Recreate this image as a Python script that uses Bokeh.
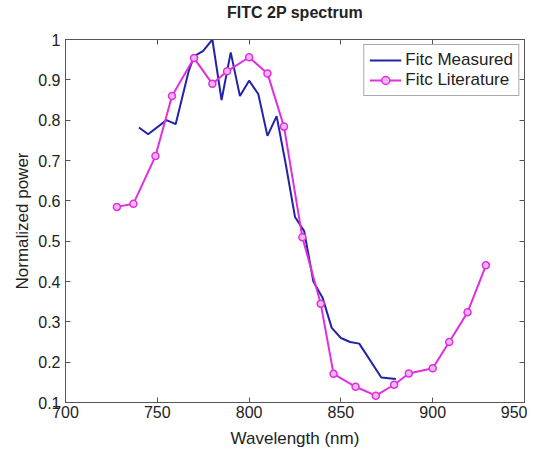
from bokeh.plotting import figure
from bokeh.models import LinearAxis, Range1d, FixedTicker, Legend, LegendItem
from bokeh.embed import file_html
from bokeh.resources import INLINE

# Data
meas_x = [740, 745, 755, 760, 767, 770, 775, 780, 785, 790, 795, 800, 805, 810, 815,
          820, 825, 830, 835, 840, 845, 850, 855, 860, 872, 880]
meas_y = [0.782, 0.765, 0.800, 0.790, 0.920, 0.958, 0.972, 1.000, 0.850, 0.968, 0.860,
          0.898, 0.865, 0.761, 0.810, 0.690, 0.560, 0.525, 0.400, 0.360, 0.285, 0.260,
          0.250, 0.246, 0.162, 0.158]

lit_x = [728, 737, 749, 758, 770, 780, 788, 800, 810, 819, 829, 839, 846, 858, 869,
         879, 887, 900, 909, 919, 929]
lit_y = [0.585, 0.593, 0.711, 0.860, 0.954, 0.890, 0.921, 0.956, 0.916, 0.784, 0.510,
         0.345, 0.171, 0.139, 0.117, 0.144, 0.172, 0.185, 0.250, 0.324, 0.440]

x_ticks = [700, 750, 800, 850, 900, 950]
y_ticks = [0.1, 0.2, 0.3, 0.4, 0.5, 0.6, 0.7, 0.8, 0.9, 1.0]
title_text = "FITC 2P spectrum"

FONT = "Liberation Sans"
BLUE = "#2323a6"
MAG = "#e02ee0"
AXC = "#555555"
TXT = "#222222"

p = figure(width=527, height=452, output_backend="svg", toolbar_location=None,
           x_range=Range1d(700, 950), y_range=Range1d(0.1, 1.0),
           min_border_left=65, min_border_right=3, min_border_top=39, min_border_bottom=50)

p.xgrid.visible = False
p.ygrid.visible = False
p.outline_line_color = AXC
p.outline_line_width = 1

for ax in (p.xaxis[0], p.yaxis[0]):
    ax.major_tick_in = 5
    ax.major_tick_out = 0
    ax.minor_tick_line_color = None
    ax.axis_line_color = AXC
    ax.major_tick_line_color = AXC
    ax.major_label_text_font = FONT
    ax.major_label_text_font_size = "16px"
    ax.major_label_text_color = TXT
    ax.axis_label_text_font = FONT
    ax.axis_label_text_font_size = "17px"
    ax.axis_label_text_font_style = "normal"
    ax.axis_label_text_color = TXT

p.xaxis[0].ticker = FixedTicker(ticks=x_ticks)
p.yaxis[0].ticker = FixedTicker(ticks=y_ticks)
p.xaxis[0].axis_label = "Wavelength (nm)"
p.yaxis[0].axis_label = "Normalized power"
p.xaxis[0].axis_label_standoff = 8
p.yaxis[0].axis_label_standoff = 3
p.xaxis[0].major_label_standoff = 3
p.yaxis[0].major_label_standoff = 5

# top / right inward ticks, no labels
def bare_axis(ticks):
    return LinearAxis(ticker=FixedTicker(ticks=ticks), major_tick_in=5, major_tick_out=0,
                      minor_tick_line_color=None, major_label_text_font_size="0px",
                      major_label_text_color=None, major_label_standoff=0,
                      axis_line_color=AXC, major_tick_line_color=AXC)

top_axis = bare_axis(x_ticks)
top_axis.axis_label = title_text
top_axis.axis_label_text_font = FONT
top_axis.axis_label_text_font_size = "16px"
top_axis.axis_label_text_font_style = "bold"
top_axis.axis_label_text_color = TXT
top_axis.axis_label_standoff = 19
p.add_layout(top_axis, "above")
p.add_layout(bare_axis(y_ticks), "right")

r_meas = p.line(meas_x, meas_y, line_color=BLUE, line_width=2)
r_lit = p.line(lit_x, lit_y, line_color=MAG, line_width=2)
r_lit_m = p.scatter(lit_x, lit_y, marker="circle", size=7, line_color=MAG,
                    line_width=1.5, fill_color="#f2b6f2")

legend = Legend(items=[LegendItem(label="Fitc Measured", renderers=[r_meas]),
                       LegendItem(label="Fitc Literature", renderers=[r_lit, r_lit_m])],
                location="top_right")
legend.label_text_font = FONT
legend.label_text_font_size = "17px"
legend.label_text_color = TXT
legend.border_line_color = AXC
legend.border_line_width = 1
legend.glyph_width = 32
legend.glyph_height = 20
legend.label_height = 20
legend.spacing = 0
legend.padding = 5
legend.margin = 5
legend.label_standoff = 4
p.add_layout(legend, "center")

open("out.html", "w").write(file_html(p, INLINE))
